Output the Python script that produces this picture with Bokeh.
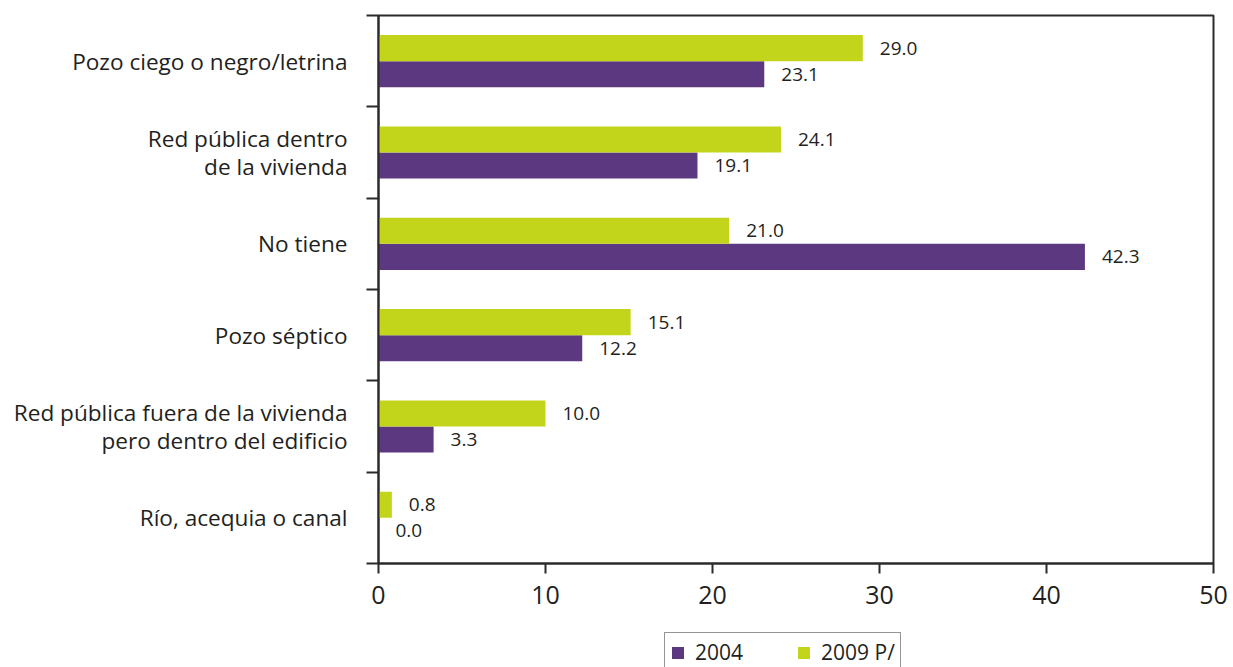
from bokeh.plotting import figure
from bokeh.layouts import column
from bokeh.models import Range1d, FixedTicker, Legend, LegendItem, ColumnDataSource
from bokeh.core.properties import value
from bokeh.embed import file_html
from bokeh.resources import INLINE

categories = [
    "Pozo ciego o negro/letrina",
    "Red pública dentro\nde la vivienda",
    "No tiene",
    "Pozo séptico",
    "Red pública fuera de la vivienda\npero dentro del edificio",
    "Río, acequia o canal",
]
v2004 = [23.1, 19.1, 42.3, 12.2, 3.3, 0.0]
v2009 = [29.0, 24.1, 21.0, 15.1, 10.0, 0.8]
series_names = ["2004", "2009 P/"]
x_ticks = [0, 10, 20, 30, 40, 50]

PURPLE = "#5C3880"
GREEN = "#C3D51A"
FONT = "Open Sans"
TXT = "#231F20"
AX = "#2b2b2b"

n = len(categories)
centers = [i + 0.5 for i in range(n)]
y04 = [c + 0.143 for c in centers]
y09 = [c - 0.143 for c in centers]

p = figure(width=1233, height=620, output_backend="svg", toolbar_location=None,
           x_range=Range1d(0, 50), y_range=Range1d(n, 0),
           min_border_left=378, min_border_right=20, min_border_top=15,
           min_border_bottom=57)

src04 = ColumnDataSource(dict(y=y04, v=v2004, lab=[f"{v:.1f}" for v in v2004]))
src09 = ColumnDataSource(dict(y=y09, v=v2009, lab=[f"{v:.1f}" for v in v2009]))

p.hbar(y="y", right="v", left=0, height=0.286, source=src04,
       fill_color=PURPLE, line_color=None)
p.hbar(y="y", right="v", left=0, height=0.286, source=src09,
       fill_color=GREEN, line_color=None)

for src in (src04, src09):
    p.text(x="v", y="y", text="lab", source=src, x_offset=17,
           text_baseline="middle", text_align="left",
           text_font=value(FONT), text_font_size="19px", text_color=TXT)

p.xgrid.visible = False
p.ygrid.visible = False
p.outline_line_color = AX
p.outline_line_width = 2

# x axis
xa = p.xaxis[0]
xa.ticker = FixedTicker(ticks=x_ticks)
xa.axis_line_color = AX
xa.axis_line_width = 2
xa.major_tick_line_color = AX
xa.major_tick_line_width = 2
xa.major_tick_out = 10
xa.major_tick_in = 0
xa.minor_tick_line_color = None
xa.major_label_standoff = 12
xa.major_label_text_font = FONT
xa.major_label_text_font_size = "25px"
xa.major_label_text_color = TXT

# y axis: labels at category centres, ticks at boundaries
ya = p.yaxis[0]
ya.ticker = FixedTicker(ticks=centers, minor_ticks=list(range(n + 1)))
ya.major_label_overrides = {c: lab for c, lab in zip(centers, categories)}
ya.axis_line_color = AX
ya.axis_line_width = 2
ya.major_tick_line_color = None
ya.major_tick_out = 0
ya.major_tick_in = 0
ya.minor_tick_line_color = AX
ya.minor_tick_line_width = 2
ya.minor_tick_out = 12
ya.minor_tick_in = 0
ya.major_label_standoff = 19
ya.major_label_text_font = FONT
ya.major_label_text_font_size = "22.6px"
ya.major_label_text_color = TXT
ya.major_label_text_line_height = 0.88

# legend in a strip below the chart
lg = figure(width=1233, height=47, output_backend="svg", toolbar_location=None,
            x_range=Range1d(0, 1), y_range=Range1d(0, 1),
            x_axis_type=None, y_axis_type=None,
            min_border_left=0, min_border_right=0, min_border_top=0,
            min_border_bottom=0)
lg.outline_line_color = None
lg.xgrid.visible = False
lg.ygrid.visible = False
# zero-width proxy bars, only used to draw the legend swatches
proxy = ColumnDataSource(dict(y=[0.5], v=[0]))
d04 = lg.hbar(y="y", right="v", left=0, height=0.1, source=proxy,
              fill_color=PURPLE, line_color=None)
d09 = lg.hbar(y="y", right="v", left=0, height=0.1, source=proxy,
              fill_color=GREEN, line_color=None)
legend = Legend(items=[LegendItem(label=series_names[0], renderers=[d04]),
                       LegendItem(label=series_names[1], renderers=[d09])],
                orientation="horizontal", location=(286, -5),
                label_text_font=FONT, label_text_font_size="21px",
                label_text_color=TXT, glyph_width=15, glyph_height=15,
                label_standoff=10, spacing=53, padding=5, margin=0,
                border_line_color=AX, border_line_width=1.5,
                background_fill_color="white", background_fill_alpha=1)
lg.add_layout(legend, "center")

open("out.html", "w").write(file_html(column(p, lg, spacing=0), INLINE))
